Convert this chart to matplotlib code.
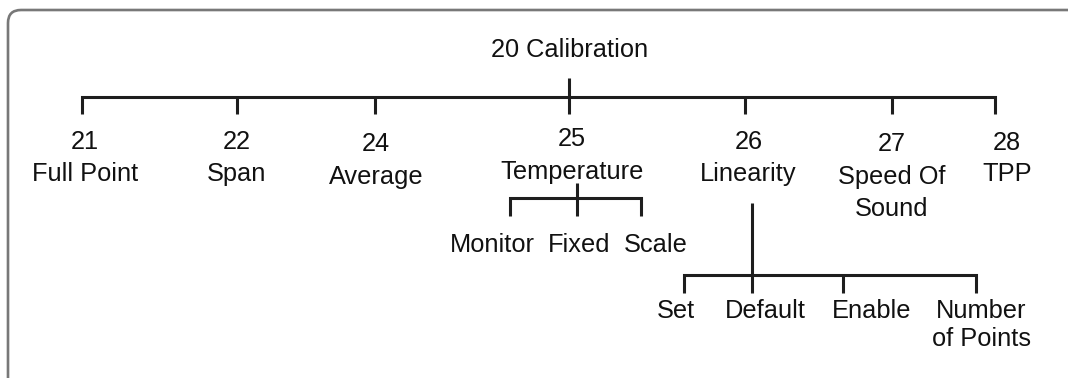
import matplotlib
matplotlib.use("Agg")
import matplotlib.pyplot as plt
from matplotlib.patches import FancyBboxPatch

# ---------------- data ----------------
root_label = "20 Calibration"
level1_numbers = ["21", "22", "24", "25", "26", "27", "28"]
level1_names = [["Full Point"], ["Span"], ["Average"], ["Temperature"],
                ["Linearity"], ["Speed Of", "Sound"], ["TPP"]]
temp_children = ["Monitor", "Fixed", "Scale"]
lin_children = [["Set"], ["Default"], ["Enable"], ["Number", "of Points"]]

# ---------------- layout (pixel coordinates) ----------------
W, H = 1068, 378
root_xy = (570, 48)
root_stem_top = 78
bus_y = 96.7
tick_bottom = 113.5
l1_tick_x = [81.7, 236.7, 375, 569, 745, 891.7, 995]
l1_label_x = [85, 237, 376, 572, 748.5, 892, 1007]
l1_number_y = [140, 140, 141.7, 137.5, 140, 141.7, 140.7]
l1_name_y = [171.7, 171.7, 175, 170, 171.7, 175, 171.7]
line_step = 31.7

temp_stem_x, temp_stem_top, temp_bus_y, temp_tick_bottom = 577.3, 182.7, 198.3, 216
temp_tick_x = [510, 577.3, 640.7]
temp_label_x = [492.5, 579, 656]
temp_label_y = 242.7

lin_stem_x, lin_stem_top, lin_bus_y, lin_tick_bottom = 751.7, 203, 275, 293
lin_tick_x = [684.3, 751.7, 842.7, 975.7]
lin_label_x = [676, 765, 872, 981]
lin_label_y = 308.5
lin_line_step = 28.7

LINE = "#1e1e1e"
LW = 2.2
FS = 18.3
CAP = 9.0  # half cap height in px (center -> baseline)

fig = plt.figure(figsize=(W / 100, H / 100), dpi=100)
ax = fig.add_axes([0, 0, 1, 1])
ax.set_xlim(0, W)
ax.set_ylim(H, 0)
ax.axis("off")

# frame (rounded, extends beyond right/bottom edges)
frame = FancyBboxPatch((8, 10), 1200, 500,
                       boxstyle="round,pad=0,rounding_size=13",
                       fc="white", ec="#787878", lw=1.9, zorder=0)
ax.add_patch(frame)

font = dict(family=["Liberation Sans", "DejaVu Sans"], fontsize=FS, color="#111111")


def label(x, y, s):
    ax.text(x, y + CAP, s, ha="center", va="baseline", **font)


def seg(x0, y0, x1, y1):
    ax.plot([x0, x1], [y0, y1], color=LINE, lw=LW, solid_capstyle="butt",
            solid_joinstyle="miter")


# root
label(root_xy[0], root_xy[1], root_label)
seg(l1_tick_x[3], root_stem_top, l1_tick_x[3], bus_y)
# main bus with end ticks as one path
ax.plot([l1_tick_x[0], l1_tick_x[0], l1_tick_x[-1], l1_tick_x[-1]],
        [tick_bottom, bus_y, bus_y, tick_bottom], color=LINE, lw=LW,
        solid_joinstyle="miter", solid_capstyle="butt")
for x in l1_tick_x[1:-1]:
    seg(x, bus_y, x, tick_bottom)

for i, (num, names) in enumerate(zip(level1_numbers, level1_names)):
    label(l1_label_x[i], l1_number_y[i], num)
    for j, nm in enumerate(names):
        label(l1_label_x[i], l1_name_y[i] + j * line_step, nm)

# temperature subtree
seg(temp_stem_x, temp_stem_top, temp_stem_x, temp_bus_y)
ax.plot([temp_tick_x[0], temp_tick_x[0], temp_tick_x[-1], temp_tick_x[-1]],
        [temp_tick_bottom, temp_bus_y, temp_bus_y, temp_tick_bottom], color=LINE,
        lw=LW, solid_joinstyle="miter", solid_capstyle="butt")
for x in temp_tick_x[1:-1]:
    seg(x, temp_bus_y, x, temp_tick_bottom)
for x, s in zip(temp_label_x, temp_children):
    label(x, temp_label_y, s)

# linearity subtree
seg(lin_stem_x, lin_stem_top, lin_stem_x, lin_bus_y)
ax.plot([lin_tick_x[0], lin_tick_x[0], lin_tick_x[-1], lin_tick_x[-1]],
        [lin_tick_bottom, lin_bus_y, lin_bus_y, lin_tick_bottom], color=LINE,
        lw=LW, solid_joinstyle="miter", solid_capstyle="butt")
for x in lin_tick_x[1:-1]:
    seg(x, lin_bus_y, x, lin_tick_bottom)
for x, lines in zip(lin_label_x, lin_children):
    for j, s in enumerate(lines):
        label(x, lin_label_y + j * lin_line_step, s)

fig.savefig("out.png", dpi=100)
